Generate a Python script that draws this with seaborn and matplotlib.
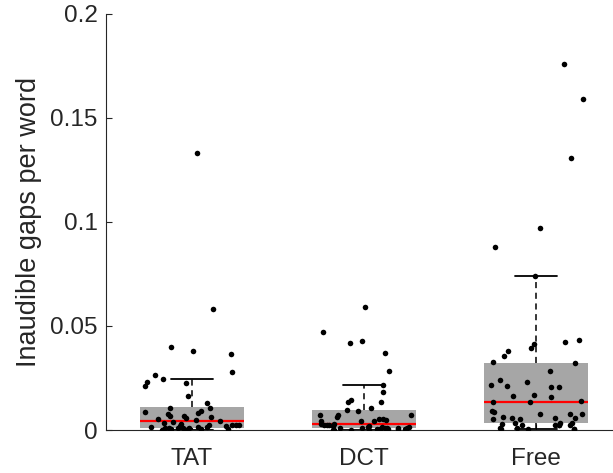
import numpy as np
import pandas as pd
import seaborn as sns
import matplotlib
matplotlib.use("Agg")
import matplotlib.pyplot as plt

# ================== data ==================
conditions = ["TAT", "DCT", "Free"]

tat = [0.1332, 0.0580, 0.0398, 0.0380, 0.0364, 0.0277, 0.0266, 0.0245, 0.0229,
       0.0226, 0.0212, 0.0164, 0.0131, 0.0104, 0.0104, 0.0090, 0.0087, 0.0080,
       0.0075, 0.0067, 0.0066, 0.0064, 0.0056, 0.0054, 0.0048, 0.0045, 0.0038,
       0.0035, 0.0030, 0.0024, 0.0024, 0.0024, 0.0022, 0.0018, 0.0017, 0.0016,
       0.0015, 0.0015, 0.0011, 0.0011, 0.0008, 0.0008, 0.0008, 0.0006, 0.0004,
       0.0004, 0.0003, 0.0002, 0.0002, 0.0, 0.0, 0.0]

dct = [0.0593, 0.0470, 0.0428, 0.0417, 0.0370, 0.0284, 0.0216, 0.0183, 0.0144,
       0.0133, 0.0133, 0.0104, 0.0095, 0.0093, 0.0072, 0.0072, 0.0070, 0.0062,
       0.0054, 0.0054, 0.0048, 0.0043, 0.0043, 0.0042, 0.0029, 0.0029, 0.0025,
       0.0025, 0.0022, 0.0020, 0.0018, 0.0016, 0.0016, 0.0013, 0.0012, 0.0011,
       0.0011, 0.0010, 0.0010, 0.0008, 0.0007, 0.0006, 0.0005, 0.0004, 0.0003,
       0.0002, 0.0002, 0.0001, 0.0, 0.0]

free = [0.1762, 0.1592, 0.1307, 0.0973, 0.0880, 0.0740, 0.0431, 0.0422, 0.0412,
        0.0393, 0.0382, 0.0354, 0.0325, 0.0320, 0.0284, 0.0239, 0.0229, 0.0218,
        0.0213, 0.0207, 0.0205, 0.0168, 0.0164, 0.0157, 0.0140, 0.0136, 0.0133,
        0.0093, 0.0087, 0.0078, 0.0077, 0.0077, 0.0062, 0.0059, 0.0059, 0.0058,
        0.0054, 0.0054, 0.0035, 0.0035, 0.0035, 0.0030, 0.0025, 0.0025, 0.0022,
        0.0022, 0.0022, 0.0012, 0.0012, 0.0005, 0.0005, 0.0005, 0.0005]

y_ticks = [0, 0.05, 0.1, 0.15, 0.2]
y_tick_labels = ["0", "0.05", "0.1", "0.15", "0.2"]
y_label = "Inaudible gaps per word"

df = pd.concat([
    pd.DataFrame({"Condition": c, "gaps": v})
    for c, v in zip(conditions, [tat, dct, free])
], ignore_index=True)

# ================== style ==================
sns.set_style("ticks")
plt.rcParams["font.family"] = ["Liberation Sans", "DejaVu Sans"]
text_col = "#262626"
box_col = "#a6a6a6"
fs = 17.5

fig = plt.figure(figsize=(6.13, 4.73), dpi=100)
ax = fig.add_axes([106 / 613, 43 / 473, 507 / 613, 416 / 473])

sns.boxplot(
    data=df, x="Condition", y="gaps", order=conditions,
    color=box_col, saturation=1, width=0.6, whis=1.5, showfliers=False,
    linecolor="black", linewidth=1.2,
    boxprops=dict(facecolor=box_col, edgecolor=box_col, linewidth=0),
    medianprops=dict(color="red", linewidth=1.6),
    whiskerprops=dict(color="black", linestyle=(0, (4, 3)), linewidth=1.1),
    capprops=dict(color="black", linewidth=1.3),
    capwidths=0.24,
    ax=ax,
)

np.random.seed(3)
sns.stripplot(
    data=df, x="Condition", y="gaps", order=conditions,
    color="black", size=4, jitter=0.29, linewidth=0, ax=ax, zorder=3,
)

ax.set_xlim(-0.5, 2.448)
ax.set_ylim(0, 0.2)
ax.set_yticks(y_ticks)
ax.set_yticklabels(y_tick_labels)
ax.set_xlabel("")
ax.set_ylabel(y_label, fontsize=19.5, color=text_col, labelpad=6)

sns.despine(ax=ax)
for side in ["left", "bottom"]:
    ax.spines[side].set_color(text_col)
    ax.spines[side].set_linewidth(0.8)
ax.tick_params(axis="both", direction="in", length=4, width=0.8,
               colors=text_col, labelsize=fs, labelcolor=text_col)
ax.tick_params(axis="y", pad=6)
ax.tick_params(axis="x", pad=13)

plt.savefig("out.png", dpi=100)
plt.close()
